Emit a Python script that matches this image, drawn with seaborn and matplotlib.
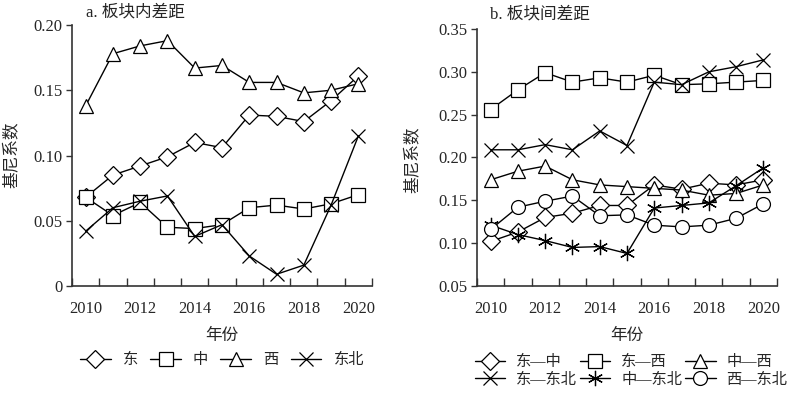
import matplotlib
matplotlib.use("Agg")
import matplotlib.pyplot as plt
from matplotlib.lines import Line2D
import seaborn as sns
import pandas as pd
import numpy as np

years = list(range(2010, 2021))

# Panel a: within-region Gini
a_names = ["东", "中", "西", "东北"]
a_east = [0.068, 0.085, 0.092, 0.099, 0.110, 0.106, 0.131, 0.130, 0.126, 0.142, 0.161]
a_central = [0.068, 0.054, 0.064, 0.045, 0.044, 0.047, 0.060, 0.062, 0.059, 0.063, 0.070]
a_west = [0.138, 0.178, 0.184, 0.188, 0.167, 0.169, 0.156, 0.156, 0.148, 0.150, 0.155]
a_ne = [0.042, 0.060, 0.065, 0.069, 0.038, 0.047, 0.023, 0.009, 0.016, 0.062, 0.115]

# Panel b: between-region Gini
b_names = ["东—中", "东—西", "中—西", "东—东北", "中—东北", "西—东北"]
b_ec = [0.102, 0.113, 0.130, 0.135, 0.144, 0.144, 0.168, 0.163, 0.170, 0.168, 0.174]
b_ew = [0.256, 0.279, 0.299, 0.288, 0.293, 0.288, 0.296, 0.285, 0.286, 0.288, 0.290]
b_cw = [0.174, 0.184, 0.190, 0.174, 0.168, 0.166, 0.164, 0.162, 0.156, 0.158, 0.168]
b_ene = [0.209, 0.209, 0.215, 0.209, 0.231, 0.214, 0.288, 0.285, 0.300, 0.306, 0.314]
b_cne = [0.121, 0.110, 0.103, 0.095, 0.096, 0.088, 0.141, 0.144, 0.147, 0.167, 0.188]
b_wne = [0.116, 0.142, 0.149, 0.155, 0.132, 0.133, 0.121, 0.119, 0.121, 0.129, 0.146]

a_series = [a_east, a_central, a_west, a_ne]
b_series = [b_ec, b_ew, b_cw, b_ene, b_cne, b_wne]

asterisk = (6, 2, 0)
a_markers = {"东": "D", "中": "s", "西": "^", "东北": "x"}
b_markers = {"东—中": "D", "东—西": "s", "中—西": "^",
             "东—东北": "x", "中—东北": asterisk, "西—东北": "o"}
msize = {"D": 9, "s": 10, "^": 10, "x": 10, asterisk: 11, "o": 10}

sns.set_theme(style="white")
plt.rcParams['font.family'] = ['Liberation Serif', 'Noto Sans CJK SC']
plt.rcParams['axes.unicode_minus'] = False

fig = plt.figure(figsize=(8, 3.95), dpi=100)
ax_a = fig.add_axes([72/800, 1-286/395, 300/800, 261/395])
ax_b = fig.add_axes([477/800, 1-286/395, 300/800, 257/395])


def draw(ax, names, series, markers):
    for n, vals in zip(names, series):
        df = pd.DataFrame({"year": years, "value": vals})
        m = markers[n]
        sns.lineplot(data=df, x="year", y="value", ax=ax, color="black",
                     linewidth=1.0, marker=m, markersize=msize[m],
                     markerfacecolor="white", markeredgecolor="black",
                     markeredgewidth=0.9, zorder=3)
    ax.set_xlim(2009.5, 2020.5)
    ax.set_xticks([2010, 2012, 2014, 2016, 2018, 2020])
    ax.set_xticks(np.arange(2009.5, 2021, 1.0), minor=True)
    ax.tick_params(axis="x", which="major", length=0, labelsize=12, pad=11)
    ax.tick_params(axis="x", which="minor", length=6, direction="in",
                   width=1.0, color="#333333", bottom=True)
    ax.tick_params(axis="y", which="major", length=4, direction="out",
                   width=1.0, color="#333333", labelsize=12, pad=3, left=True)
    for s in ["top", "right"]:
        ax.spines[s].set_visible(False)
    for s in ["left", "bottom"]:
        ax.spines[s].set_color("#333333")
        ax.spines[s].set_linewidth(1.2)
    ax.set_xlabel("年份", fontsize=12, labelpad=8)
    ax.set_ylabel("")
    ax.grid(False)


draw(ax_a, a_names, a_series, a_markers)
ax_a.set_ylim(0, 0.20)
ax_a.set_yticks([0, 0.05, 0.10, 0.15, 0.20])
ax_a.set_yticklabels(["0", "0.05", "0.10", "0.15", "0.20"])

draw(ax_b, b_names, b_series, b_markers)
ax_b.set_ylim(0.05, 0.35)
ax_b.set_yticks([0.05, 0.10, 0.15, 0.20, 0.25, 0.30, 0.35])
ax_b.set_yticklabels(["0.05", "0.10", "0.15", "0.20", "0.25", "0.30", "0.35"])

fig.text(12/800, 1-155/395, "基尼系数", rotation=90, ha="center", va="center", fontsize=12)
fig.text(413/800, 1-160/395, "基尼系数", rotation=90, ha="center", va="center", fontsize=12)
fig.text(86/800, 1-13/395, "a. 板块内差距", ha="left", va="center", fontsize=12)
fig.text(490/800, 1-14/395, "b. 板块间差距", ha="left", va="center", fontsize=12)


def handle(m):
    return Line2D([0], [0], color="black", linewidth=1.0, marker=m,
                  markersize=msize[m], markerfacecolor="white",
                  markeredgecolor="black", markeredgewidth=0.9)


ha = [handle(a_markers[n]) for n in a_names]
fig.legend(ha, a_names, loc="center", bbox_to_anchor=(222/800, 1-360/395),
           ncol=4, frameon=False, fontsize=11, handlelength=2.0,
           handletextpad=0.8, columnspacing=0.8, borderpad=0)

order = ["东—中", "东—东北", "东—西", "中—东北", "中—西", "西—东北"]
hb = [handle(b_markers[n]) for n in order]
fig.legend(hb, order, loc="center", bbox_to_anchor=(631/800, 1-371/395),
           ncol=3, frameon=False, fontsize=11, handlelength=2.0,
           handletextpad=0.7, columnspacing=0.2, borderpad=0,
           labelspacing=0.2)

fig.savefig("out.png", dpi=100)
